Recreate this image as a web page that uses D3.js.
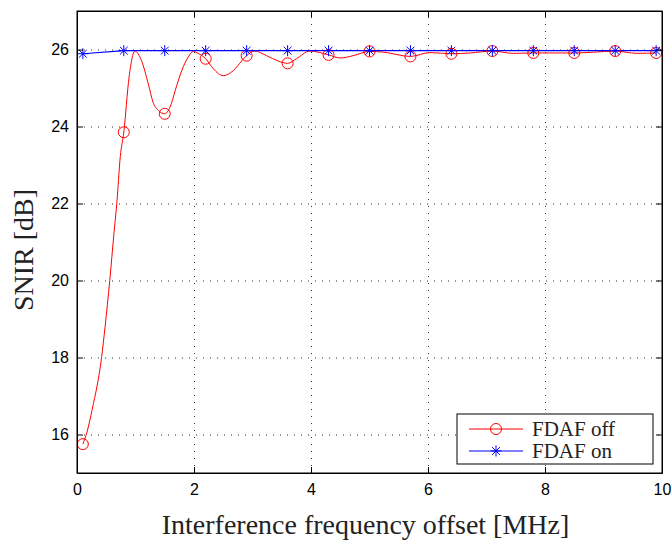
<!DOCTYPE html>
<html>
<head>
<meta charset="utf-8">
<script src="https://cdn.jsdelivr.net/npm/d3@7"></script>
<style>
  body { margin: 0; background: #fff; }
  .tick text { font-family: "Liberation Sans", Arial, sans-serif; font-size: 16px; fill: #000; }
  .axis path, .axis line { stroke: #000; }
  .grid line { stroke: #333; stroke-dasharray: 1,6; }
  .grid path { stroke: none; }
</style>
</head>
<body>
<svg id="chart"></svg>
<script>
const offCurveX = [0.1, 0.17, 0.28, 0.36, 0.42, 0.48, 0.56, 0.63, 0.68, 0.74, 0.8, 0.89, 0.99,
  1.1, 1.22, 1.3, 1.39, 1.5, 1.59, 1.68, 1.79, 1.9, 1.99, 2.07, 2.2, 2.33, 2.5, 2.67, 2.82, 2.9,
  3.04, 3.24, 3.44, 3.6, 3.75, 3.98, 4.3, 4.5, 4.72, 5.0, 5.24, 5.7, 6.03, 6.4, 6.72, 7.1, 7.46,
  7.8, 8.14, 8.5, 8.83, 9.2, 9.57, 9.9];
const offCurveY = [15.75, 16.06, 16.8, 17.4, 18.0, 18.8, 20.0, 21.2, 22.0, 23.22, 23.85, 25.28, 25.96,
  25.72, 25.1, 24.63, 24.42, 24.33, 24.5, 24.94, 25.45, 25.8, 25.95, 25.9, 25.76, 25.5, 25.32, 25.45, 25.71, 25.84,
  25.96, 25.84, 25.7, 25.64, 25.76, 25.96, 25.86, 25.78, 25.84, 25.95, 25.93, 25.82, 25.92, 25.89, 25.91, 25.96, 25.9,
  25.91, 25.91, 25.91, 25.93, 25.96, 25.9, 25.91];

// marker positions shared by both series
const markerX = [0.1, 0.8, 1.5, 2.2, 2.9, 3.6, 4.3, 5.0, 5.7, 6.4, 7.1, 7.8, 8.5, 9.2, 9.9];
const offMarkerY = [15.75, 23.85, 24.33, 25.76, 25.84, 25.64, 25.86, 25.95, 25.82, 25.89, 25.96, 25.91, 25.91, 25.96, 25.91];
const onMarkerY = [25.89, 25.97, 25.97, 25.97, 25.97, 25.97, 25.97, 25.97, 25.97, 25.97, 25.97, 25.97, 25.97, 25.97, 25.97];

const xTicks = [0, 2, 4, 6, 8, 10];
const yTicks = [16, 18, 20, 22, 24, 26];
const seriesNames = ['FDAF off', 'FDAF on'];
const seriesColors = ['#ff0000', '#0000ff'];

const serif = '"Liberation Serif", "Times New Roman", serif';

class LineChart {

  constructor(_config) {
    this.config = {
      parentElement: _config.parentElement,
      containerWidth: 671,
      containerHeight: 540,
      margin: { top: 11, right: 9, bottom: 67, left: 77 }
    };
    this.initVis();
  }

  initVis() {
    let vis = this;

    vis.config.width = vis.config.containerWidth - vis.config.margin.left - vis.config.margin.right;
    vis.config.height = vis.config.containerHeight - vis.config.margin.top - vis.config.margin.bottom;

    vis.svg = d3.select(vis.config.parentElement)
      .attr('width', vis.config.containerWidth)
      .attr('height', vis.config.containerHeight);

    vis.chartArea = vis.svg.append('g')
      .attr('transform', `translate(${vis.config.margin.left},${vis.config.margin.top})`);

    vis.xScale = d3.scaleLinear().domain([0, 10]).range([0, vis.config.width]);
    vis.yScale = d3.scaleLinear().domain([15, 27]).range([vis.config.height, 0]);

    // dotted grid
    vis.chartArea.append('g')
      .attr('class', 'grid')
      .attr('transform', `translate(0,${vis.config.height})`)
      .call(d3.axisBottom(vis.xScale).tickValues(xTicks).tickSize(-vis.config.height).tickFormat(''));
    vis.chartArea.append('g')
      .attr('class', 'grid')
      .call(d3.axisLeft(vis.yScale).tickValues(yTicks).tickSize(-vis.config.width).tickFormat(''));

    vis.renderVis();
    vis.renderAxes();
    vis.renderLegend();
  }

  starPath(r) {
    const d = r * Math.SQRT1_2;
    return `M${-r},0L${r},0M0,${-r}L0,${r}M${-d},${-d}L${d},${d}M${-d},${d}L${d},${-d}`;
  }

  renderVis() {
    let vis = this;

    const offCurve = offCurveX.map((x, i) => ({ x: x, y: offCurveY[i] }));
    const onPoints = markerX.map((x, i) => ({ x: x, y: onMarkerY[i] }));
    const offPoints = markerX.map((x, i) => ({ x: x, y: offMarkerY[i] }));

    const smooth = d3.line()
      .x(d => vis.xScale(d.x))
      .y(d => vis.yScale(d.y))
      .curve(d3.curveMonotoneX);

    const straight = d3.line()
      .x(d => vis.xScale(d.x))
      .y(d => vis.yScale(d.y));

    vis.chartArea.append('path')
      .datum(offCurve)
      .attr('fill', 'none')
      .attr('stroke', seriesColors[0])
      .attr('stroke-width', 1)
      .attr('d', smooth);

    vis.chartArea.append('path')
      .datum(onPoints)
      .attr('fill', 'none')
      .attr('stroke', seriesColors[1])
      .attr('stroke-width', 1.2)
      .attr('d', straight);

    vis.chartArea.selectAll('.off-marker')
      .data(offPoints)
      .join('circle')
      .attr('class', 'off-marker')
      .attr('cx', d => vis.xScale(d.x))
      .attr('cy', d => vis.yScale(d.y))
      .attr('r', 5.5)
      .attr('fill', 'none')
      .attr('stroke', seriesColors[0])
      .attr('stroke-width', 1);

    vis.chartArea.selectAll('.on-marker')
      .data(onPoints)
      .join('path')
      .attr('class', 'on-marker')
      .attr('transform', d => `translate(${vis.xScale(d.x)},${vis.yScale(d.y)})`)
      .attr('d', vis.starPath(5.5))
      .attr('fill', 'none')
      .attr('stroke', seriesColors[1])
      .attr('stroke-width', 1);
  }

  renderAxes() {
    let vis = this;
    const w = vis.config.width, h = vis.config.height;

    vis.chartArea.append('g')
      .attr('class', 'axis')
      .attr('transform', `translate(0,${h})`)
      .call(d3.axisBottom(vis.xScale).tickValues(xTicks).tickSize(-6).tickPadding(11).tickSizeOuter(0));
    vis.chartArea.append('g')
      .attr('class', 'axis')
      .call(d3.axisLeft(vis.yScale).tickValues(yTicks).tickSize(-6).tickPadding(8).tickSizeOuter(0));
    vis.chartArea.append('g')
      .attr('class', 'axis')
      .call(d3.axisTop(vis.xScale).tickValues(xTicks).tickSize(-6).tickFormat('').tickSizeOuter(0));
    vis.chartArea.append('g')
      .attr('class', 'axis')
      .attr('transform', `translate(${w},0)`)
      .call(d3.axisRight(vis.yScale).tickValues(yTicks).tickSize(-6).tickFormat('').tickSizeOuter(0));

    vis.chartArea.append('rect')
      .attr('width', w)
      .attr('height', h)
      .attr('fill', 'none')
      .attr('stroke', '#000');

    // axis titles
    vis.svg.append('text')
      .attr('x', vis.config.margin.left + w / 2 - 4)
      .attr('y', 534)
      .attr('text-anchor', 'middle')
      .style('font-family', serif)
      .style('font-size', '28px')
      .style('fill', '#222')
      .text('Interference frequency offset [MHz]');

    vis.svg.append('text')
      .attr('transform', `translate(33,${vis.config.margin.top + h / 2 + 8}) rotate(-90)`)
      .attr('text-anchor', 'middle')
      .style('font-family', serif)
      .style('font-size', '28px')
      .style('fill', '#222')
      .text('SNIR [dB]');
  }

  renderLegend() {
    let vis = this;

    const legend = vis.svg.append('g')
      .attr('transform', 'translate(457,414)');

    legend.append('rect')
      .attr('width', 196)
      .attr('height', 50)
      .attr('fill', '#fff')
      .attr('stroke', '#000');

    const rows = legend.selectAll('.legend-row')
      .data(seriesNames)
      .join('g')
      .attr('class', 'legend-row')
      .attr('transform', (d, i) => `translate(0,${15 + i * 22})`);

    rows.append('line')
      .attr('x1', 12)
      .attr('x2', 66)
      .attr('stroke', (d, i) => seriesColors[i])
      .attr('stroke-width', 1.2);

    rows.filter((d, i) => i === 0).append('circle')
      .attr('cx', 39)
      .attr('r', 5.5)
      .attr('fill', 'none')
      .attr('stroke', seriesColors[0]);

    rows.filter((d, i) => i === 1).append('path')
      .attr('transform', 'translate(39,0)')
      .attr('d', vis.starPath(5.5))
      .attr('fill', 'none')
      .attr('stroke', seriesColors[1]);

    rows.append('text')
      .attr('x', 75)
      .attr('y', 7)
      .style('font-family', serif)
      .style('font-size', '21px')
      .style('fill', '#222')
      .text(d => d);
  }
}

const chart = new LineChart({ parentElement: '#chart' });
</script>
</body>
</html>
